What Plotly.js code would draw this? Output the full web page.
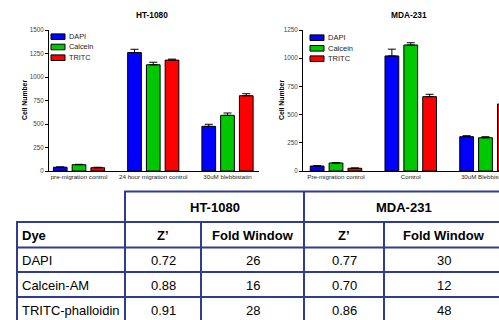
<!DOCTYPE html>
<html><head><meta charset="utf-8">
<script src="https://cdn.plot.ly/plotly-3.0.1.min.js"></script>
<style>html,body{margin:0;padding:0;background:#fff;}#chart{width:499px;height:320px;}</style>
</head><body><div id="chart"></div>
<script>
// ---- data ----
const htCategories = ['pre-migration control', '24 hour migration control', '30uM blebbistatin'];
const mdaCategories = ['Pre-migration control', 'Control', '30uM Blebbistatin'];
const dyeSeries = ['DAPI', 'Calcein', 'TRITC'];
const htDAPI = [40, 1260, 475];
const htDAPIErr = [4, 35, 22];
const htCalcein = [67, 1130, 592];
const htCalceinErr = [4, 27, 25];
const htTRITC = [35, 1180, 801];
const htTRITCErr = [5, 10, 21];
const mdaDAPI = [44, 1020, 304];
const mdaDAPIErr = [3, 60, 9];
const mdaCalcein = [71, 1117, 295];
const mdaCalceinErr = [3, 20, 9];
const mdaTRITC = [24, 659, 594];
const mdaTRITCErr = [3, 21, 10];
const chartTitles = ['HT-1080', 'MDA-231'];
const yTitle = 'Cell Number';
const tableDyes = ['DAPI', 'Calcein-AM', 'TRITC-phalloidin'];
const htZ = [0.72, 0.88, 0.91];
const htFold = [26, 16, 28];
const mdaZ = [0.77, 0.70, 0.86];
const mdaFold = [30, 12, 48];
const tableGroups = ['HT-1080', 'MDA-231'];
const tableHeader = ['Dye', 'Z\u2019', 'Fold Window', 'Z\u2019', 'Fold Window'];

// ---- layout helpers ----
const W = 499, H = 320;
const px = v => v / W;
const py = v => 1 - v / H;
const FONT = 'Liberation Sans, Arial, sans-serif';
const colors = ['#0000ff', '#00c800', '#ff0000'];
const borderColor = '#2f3d8f';

function bar(x, y, err, i, xa, ya) {
  return {
    type: 'bar', x: x, y: y, name: dyeSeries[i], xaxis: xa, yaxis: ya,
    marker: {color: colors[i], line: {color: '#000', width: 1}},
    error_y: {type: 'data', symmetric: false, array: err, arrayminus: err.map(() => 0),
              color: '#000', thickness: 1, width: 4},
    showlegend: false, hoverinfo: 'none'
  };
}

const data = [
  bar(htCategories, htDAPI, htDAPIErr, 0, 'x', 'y'),
  bar(htCategories, htCalcein, htCalceinErr, 1, 'x', 'y'),
  bar(htCategories, htTRITC, htTRITCErr, 2, 'x', 'y'),
  bar(mdaCategories, mdaDAPI, mdaDAPIErr, 0, 'x2', 'y2'),
  bar(mdaCategories, mdaCalcein, mdaCalceinErr, 1, 'x2', 'y2'),
  bar(mdaCategories, mdaTRITC, mdaTRITCErr, 2, 'x2', 'y2')
];

const yDomain = [py(171), py(30)];
function xAxis(domain, range) {
  return {domain: domain, type: 'category', range: range, showline: true, linecolor: '#000', linewidth: 1,
          ticks: '', showgrid: false, zeroline: false, fixedrange: true,
          tickfont: {family: FONT, size: 6.2, color: '#222'}, ticklabelstandoff: 0};
}
function yAxis(domain, range, anchor) {
  return {domain: domain, range: range, anchor: anchor, dtick: 250, tick0: 0,
          showline: true, linecolor: '#000', linewidth: 1, ticks: 'outside', ticklen: 3,
          tickcolor: '#000', tickwidth: 1, showgrid: false, zeroline: false,
          tickfont: {family: FONT, size: 6.3, color: '#444'}};
}

const shapes = [];
const annotations = [];

// chart titles
[[152, 15], [409, 15]].forEach((p, i) => {
  annotations.push({xref: 'paper', yref: 'paper', x: px(p[0]), y: py(p[1]), showarrow: false,
    text: '<b>' + chartTitles[i] + '</b>', font: {family: FONT, size: 8.3, color: '#000'},
    xanchor: 'center', yanchor: 'middle'});
});
// y titles
[24, 281].forEach(x => {
  annotations.push({xref: 'paper', yref: 'paper', x: px(x), y: py(100), showarrow: false,
    text: '<b>' + yTitle + '</b>', textangle: -90, font: {family: FONT, size: 6.8, color: '#000'},
    xanchor: 'center', yanchor: 'middle'});
});
// legends
const legends = [{x0: 51, ys: [36.7, 47, 57.7], size: 7.3}, {x0: 310, ys: [37.7, 48.3, 58.7], size: 7.5}];
legends.forEach(lg => {
  dyeSeries.forEach((name, i) => {
    shapes.push({type: 'rect', xref: 'paper', yref: 'paper', x0: px(lg.x0), x1: px(lg.x0 + 14),
      y0: py(lg.ys[i] - 2.8), y1: py(lg.ys[i] + 2.8), fillcolor: colors[i], line: {color: '#000', width: 1}});
    annotations.push({xref: 'paper', yref: 'paper', x: px(lg.x0 + 15.5), y: py(lg.ys[i]), showarrow: false,
      text: name, font: {family: FONT, size: lg.size, color: '#222'}, xanchor: 'left', yanchor: 'middle'});
  });
});

// table
const colX = [17, 125, 201, 304, 384, 503];
const rowY = [191.5, 222, 247.5, 272, 297, 322];
function hline(y, x0, x1) {
  shapes.push({type: 'line', xref: 'paper', yref: 'paper', x0: px(x0), x1: px(x1), y0: py(y), y1: py(y),
    line: {color: borderColor, width: 2}});
}
function vline(x, y0, y1) {
  shapes.push({type: 'line', xref: 'paper', yref: 'paper', x0: px(x), x1: px(x), y0: py(y0), y1: py(y1),
    line: {color: borderColor, width: 2}});
}
hline(rowY[0], colX[1] - 1, colX[5]);
for (let r = 1; r < rowY.length; r++) hline(rowY[r], colX[0] - 1, colX[5]);
vline(colX[0], rowY[1], rowY[5]);
vline(colX[1], rowY[0], rowY[5]);
vline(colX[2], rowY[1], rowY[5]);
vline(colX[3], rowY[0], rowY[5]);
vline(colX[4], rowY[1], rowY[5]);
vline(colX[5], rowY[0], rowY[5]);

function cellText(text, col, row, bold, align) {
  const yc = (rowY[row] + rowY[row + 1]) / 2 + 0.5;
  const x = align === 'left' ? px(colX[col] + 3) : px((colX[col] + colX[col + 1]) / 2);
  annotations.push({xref: 'paper', yref: 'paper', x: x, y: py(yc), showarrow: false,
    text: bold ? '<b>' + text + '</b>' : text, font: {family: FONT, size: 13, color: '#000'},
    xanchor: align === 'left' ? 'left' : 'center', yanchor: 'middle'});
}
// group header
tableGroups.forEach((g, i) => {
  const x0 = colX[1 + 2 * i], x1 = colX[3 + 2 * i];
  annotations.push({xref: 'paper', yref: 'paper', x: px((x0 + x1) / 2), y: py((rowY[0] + rowY[1]) / 2 + 0.5),
    showarrow: false, text: '<b>' + g + '</b>', font: {family: FONT, size: 13, color: '#000'},
    xanchor: 'center', yanchor: 'middle'});
});
tableHeader.forEach((h, c) => cellText(h, c, 1, true, c === 0 ? 'left' : 'center'));
tableDyes.forEach((d, r) => {
  cellText(d, 0, r + 2, false, 'left');
  cellText(htZ[r].toFixed(2), 1, r + 2, false, 'center');
  cellText(String(htFold[r]), 2, r + 2, false, 'center');
  cellText(mdaZ[r].toFixed(2), 3, r + 2, false, 'center');
  cellText(String(mdaFold[r]), 4, r + 2, false, 'center');
});

const layout = {
  width: W, height: H, margin: {l: 0, r: 0, t: 0, b: 0}, paper_bgcolor: '#fff', plot_bgcolor: 'rgba(0,0,0,0)',
  barmode: 'group', bargap: 0.2425, bargroupgap: 0.27, showlegend: false,
  font: {family: FONT},
  xaxis: Object.assign(xAxis([px(49), px(259)], [-0.404, 2.424]), {anchor: 'y'}),
  yaxis: yAxis(yDomain, [0, 1500], 'x'),
  xaxis2: Object.assign(xAxis([px(303), 1], [-0.4415, 2.1806]), {anchor: 'y2'}),
  yaxis2: yAxis(yDomain, [0, 1250], 'x2'),
  shapes: shapes, annotations: annotations
};

Plotly.newPlot('chart', data, layout, {staticPlot: true, displayModeBar: false});
</script></body></html>
